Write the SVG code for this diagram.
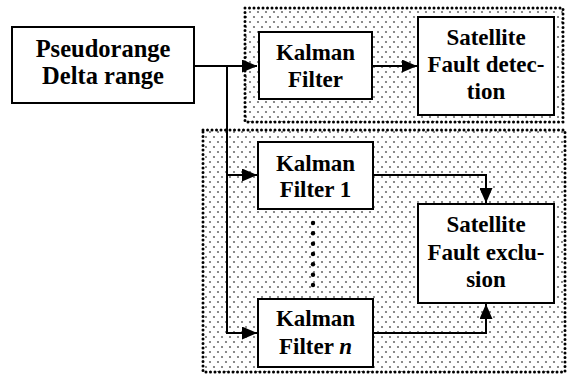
<svg xmlns="http://www.w3.org/2000/svg" width="569" height="378" viewBox="0 0 569 378">
<defs>
<pattern id="dots" width="8" height="10" patternUnits="userSpaceOnUse">
<circle cx="2" cy="2" r="1.1" fill="#6e6e6e"/>
<circle cx="6" cy="7" r="1.1" fill="#6e6e6e"/>
</pattern>
<marker id="arr" viewBox="0 0 15 13" refX="15" refY="6.5" markerWidth="15" markerHeight="13" markerUnits="userSpaceOnUse" orient="auto">
<path d="M0,0 L15,6.5 L0,13 z" fill="#000"/>
</marker>
</defs>
<style>
.region{fill:url(#dots);stroke:#000;stroke-width:3;stroke-linecap:round;stroke-dasharray:0 4.5}
.box{fill:#fff;stroke:#000;stroke-width:2}
.t{font-family:'Liberation Serif',Tinos,'Times New Roman','DejaVu Serif',serif;font-weight:700;font-size:23px;text-anchor:middle;fill:#000}
.big{font-size:24.5px}
.c{fill:none;stroke:#000;stroke-width:2}
</style>
<rect width="569" height="378" fill="#fff"/>
<g id="region-detection"><rect class="region" x="245" y="8" width="318" height="114"/></g>
<g id="region-exclusion"><rect class="region" x="203" y="130" width="362" height="242"/></g>
<g id="connectors">
<polyline class="c" points="194,66 257,66" marker-end="url(#arr)"/>
<polyline class="c" points="227,66 227,333 257,333" marker-end="url(#arr)"/>
<polyline class="c" points="227,175 257,175" marker-end="url(#arr)"/>
<polyline class="c" points="372,66 417,66" marker-end="url(#arr)"/>
<polyline class="c" points="373,175 486,175 486,203" marker-end="url(#arr)"/>
<polyline class="c" points="373,333 486,333 486,304" marker-end="url(#arr)"/>
<g fill="#000">
<circle cx="313" cy="223" r="2.2"/><circle cx="313" cy="233.3" r="2.2"/><circle cx="313" cy="243.7" r="2.2"/><circle cx="313" cy="254" r="2.2"/><circle cx="313" cy="264.3" r="2.2"/><circle cx="313" cy="274.7" r="2.2"/><circle cx="313" cy="285" r="2.2"/>
</g>
</g>
<g id="input"><rect class="box" x="12" y="27" width="182" height="76"/>
<text class="t big" x="103" y="57">Pseudorange</text><text class="t big" x="103" y="84">Delta range</text></g>
<g id="kf"><rect class="box" x="259" y="32" width="113" height="67"/>
<text class="t" x="315.5" y="60">Kalman</text><text class="t" x="315.5" y="87">Filter</text></g>
<g id="detection"><rect class="box" x="418" y="17" width="136" height="98"/>
<text class="t" x="486" y="45">Satellite</text><text class="t" x="486" y="72">Fault detec-</text><text class="t" x="486" y="99">tion</text></g>
<g id="kf1"><rect class="box" x="258" y="142" width="115" height="67"/>
<text class="t" x="315.5" y="171">Kalman</text><text class="t" x="315.5" y="197">Filter 1</text></g>
<g id="kfn"><rect class="box" x="258" y="299" width="115" height="68"/>
<text class="t" x="315.5" y="326">Kalman</text><text class="t" x="315.5" y="354">Filter <tspan font-style="italic">n</tspan></text></g>
<g id="exclusion"><rect class="box" x="418" y="204" width="136" height="99"/>
<text class="t" x="486" y="232">Satellite</text><text class="t" x="486" y="260">Fault exclu-</text><text class="t" x="486" y="287">sion</text></g>
</svg>
